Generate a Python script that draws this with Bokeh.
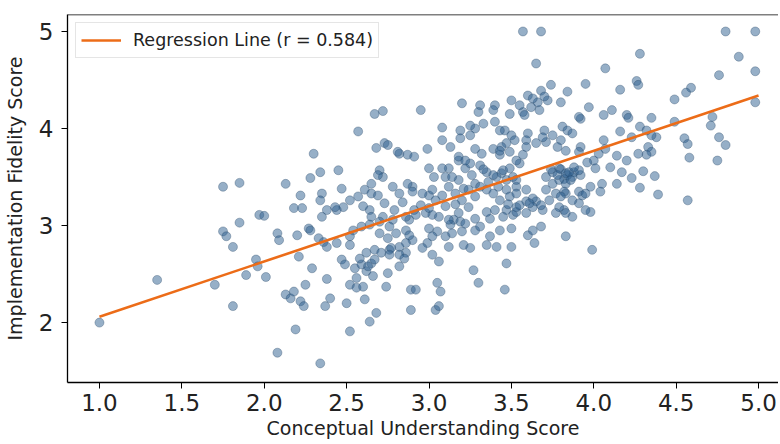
from bokeh.plotting import figure
from bokeh.models import (Range1d, FixedTicker, PrintfTickFormatter, Legend,
                          LegendItem, ColumnDataSource, Span)
from bokeh.embed import file_html
from bokeh.resources import INLINE

# ---- data ----
conceptual_score = [
    4.80, 4.98, 4.28, 4.88, 4.07, 4.98, 4.76, 3.95, 4.26, 4.27,
    3.84, 4.16, 4.59, 4.56, 4.49, 3.80, 3.97, 4.11, 4.06, 4.20,
    4.21, 4.35, 3.92, 4.72, 4.71, 4.49, 4.28, 4.32, 3.81, 3.84,
    3.87, 4.16, 4.38, 4.55, 4.57, 4.76, 4.80, 4.06, 4.07, 3.92,
    3.91, 4.33, 4.35, 4.32, 4.14, 4.20, 4.58, 4.75, 4.00, 4.01,
    3.80, 3.84, 3.88, 3.92, 3.82, 4.30, 4.23, 4.37, 4.14, 4.05,
    4.04, 3.98, 4.28, 4.39, 4.57, 3.83, 3.91, 3.93, 3.91, 3.82,
    3.83, 3.98, 3.99, 4.98,
    3.57, 3.68, 3.65, 3.74, 3.68, 3.60, 3.72, 3.20, 2.95, 2.72,
    3.31, 3.40, 3.39, 3.49, 3.57, 3.67, 3.91, 3.58, 3.50, 3.30,
    3.40, 3.33, 3.28, 3.25, 3.08, 3.19, 3.08, 3.13, 2.99, 3.28,
    3.46, 3.50, 3.52, 3.47, 3.60, 3.59, 3.65, 3.70, 3.75, 3.80,
    3.71, 3.78, 3.39, 3.44, 3.43, 3.57, 3.55, 2.73, 2.82, 2.87,
    2.91, 2.70, 2.72, 2.78, 2.90, 2.87, 3.00, 3.03, 3.12, 3.10,
    3.18, 3.22, 3.25, 3.31, 3.35, 3.18, 3.28, 3.21, 3.31, 3.35,
    3.44, 3.47, 3.51, 3.42, 3.47, 3.53, 3.00, 2.90, 2.82, 3.71,
    3.75, 3.79, 3.83, 3.71, 3.77, 3.82, 3.80,
    2.67, 2.57, 2.68, 2.30, 2.34, 2.45, 2.28, 2.47, 2.35, 2.22,
    2.13, 1.85, 1.75, 2.61, 2.65, 2.69, 2.75, 2.81, 2.69, 2.65,
    2.57, 2.52, 2.48, 2.44, 2.34, 2.18, 2.23, 1.97, 2.00, 1.85,
    1.75, 1.77, 1.81, 2.08, 2.09, 2.20, 2.27, 2.35, 2.38, 2.43,
    2.52, 2.54, 2.59, 2.64, 2.65, 2.64, 2.72, 2.78, 2.79, 2.88,
    2.91, 2.86, 2.90, 2.80, 2.86, 2.70, 2.75, 2.36, 2.44, 2.21,
    2.28, 2.33, 2.38, 1.70, 1.89, 1.96, 2.01, 1.81, 2.29, 2.38,
    2.25, 2.13, 2.16, 2.22, 2.24, 2.18, 2.37, 2.40, 2.19, 2.08,
    2.34, 2.52, 2.50, 2.64, 2.68, 2.47, 2.49, 2.52, 2.56, 2.60,
    2.61, 2.56, 2.55, 2.59, 2.62, 2.66, 2.65, 2.58, 2.62, 2.67,
    2.52, 1.00, 1.35, 1.95, 2.75, 2.74, 2.63, 2.67, 2.71, 2.76,
    2.82, 2.86, 2.82, 2.89, 2.92, 2.89, 3.04, 3.06, 3.05, 3.07,
    3.27, 3.30, 3.46, 3.47, 3.50, 3.50, 3.60, 3.63, 3.68, 3.64,
    3.37, 3.35, 3.41, 3.21, 3.25, 3.20, 3.28, 3.15, 3.13, 3.19,
    3.28, 3.37, 3.35, 3.40, 3.47, 3.51, 3.45, 3.53, 3.59, 3.65,
    3.73, 3.79, 3.00, 3.05, 3.10, 3.12, 2.99, 2.96, 3.02, 3.06,
    2.88, 2.77, 2.76, 2.82, 2.85, 2.92, 3.02, 2.70, 2.76,
    3.19, 3.25, 3.43, 4.23, 4.35, 3.18, 3.22, 3.32, 3.43, 3.49,
    3.53, 3.59, 3.69, 3.83, 4.03, 4.27, 3.08, 3.14, 3.41, 3.45,
    3.49, 3.53, 3.75, 3.79, 3.83, 3.87, 3.91, 2.96, 3.02, 3.04,
    3.08, 3.12, 3.16, 3.20, 3.24, 3.28, 3.39, 3.43, 3.49, 3.53,
    3.59, 3.63, 3.87, 3.95, 2.86, 2.98, 3.06, 3.12, 3.18, 3.22,
    3.53, 3.59, 3.63, 3.69, 3.77, 3.87, 3.95, 3.02, 3.14, 3.31,
    3.43, 3.83,
    3.62, 3.66, 3.70, 3.55, 3.63, 3.85, 3.88, 3.78, 3.86, 3.74,
    3.36, 3.39, 3.26, 3.33, 3.55, 3.61, 3.48, 3.68, 3.10, 3.16,
    3.24, 2.95, 3.00, 2.60, 2.73, 2.84, 3.96, 4.10, 4.17,
]
fidelity_score = [
    5.00, 5.00, 4.77, 4.74, 4.62, 4.59, 4.55, 4.46, 4.49, 4.45,
    4.38, 4.40, 4.42, 4.37, 4.30, 4.27, 4.22, 4.19, 4.14, 4.14,
    4.11, 4.11, 4.10, 4.12, 4.03, 4.07, 4.02, 3.98, 4.02, 3.98,
    3.95, 3.97, 3.91, 3.90, 3.84, 3.91, 3.83, 3.88, 3.79, 3.81,
    3.76, 3.81, 3.76, 3.73, 3.72, 3.67, 3.70, 3.67, 3.67, 3.59,
    3.58, 3.52, 3.55, 3.52, 3.48, 3.56, 3.49, 3.51, 3.43, 3.43,
    3.35, 3.40, 3.39, 3.32, 3.26, 3.33, 3.35, 3.31, 3.23, 3.16,
    3.13, 3.14, 2.75, 4.27,
    5.00, 5.00, 4.67, 4.45, 4.39, 4.34, 4.29, 4.26, 4.19, 4.18,
    4.24, 4.24, 4.19, 4.15, 4.17, 4.19, 4.12, 4.14, 4.29, 4.17,
    4.07, 4.05, 4.00, 3.93, 4.01, 3.90, 3.88, 3.81, 3.79, 3.79,
    3.98, 3.93, 3.88, 3.85, 3.95, 3.88, 3.85, 3.98, 3.93, 3.88,
    3.86, 3.81, 3.79, 3.81, 3.73, 3.73, 3.64, 3.85, 3.74, 3.73,
    3.71, 3.57, 3.50, 3.40, 3.40, 3.43, 3.59, 3.50, 3.59, 3.50,
    3.67, 3.59, 3.64, 3.62, 3.55, 3.47, 3.43, 3.38, 3.40, 3.37,
    3.54, 3.47, 3.50, 3.40, 3.37, 3.40, 3.31, 3.35, 3.33, 3.50,
    3.43, 3.47, 3.43, 3.37, 3.33, 3.35, 3.30,
    4.15, 3.97, 3.80, 3.74, 3.55, 3.57, 3.49, 3.38, 3.33, 3.31,
    3.43, 3.44, 3.40, 3.37, 3.33, 3.31, 3.83, 3.76, 3.52, 3.43,
    3.30, 3.26, 3.19, 3.16, 3.26, 3.18, 3.18, 3.11, 3.10, 3.03,
    2.94, 2.89, 2.78, 2.92, 2.85, 2.90, 2.97, 3.09, 3.16, 3.19,
    2.89, 2.95, 2.99, 3.16, 3.09, 3.01, 3.09, 3.06, 3.16, 3.06,
    3.16, 2.95, 2.85, 2.92, 2.82, 2.92, 2.87, 2.83, 2.82, 2.68,
    2.95, 2.87, 2.78, 2.39, 2.49, 2.58, 2.47, 2.17, 2.56, 2.45,
    2.39, 2.29, 2.25, 2.22, 2.17, 2.32, 2.17, 2.25, 1.93, 1.69,
    1.58, 1.91, 2.20, 2.01, 2.10, 2.65, 2.60, 2.39, 2.36, 2.37,
    2.24, 2.46, 2.56, 2.60, 2.53, 2.48, 2.61, 2.66, 2.72, 2.75,
    2.80, 2.00, 2.44, 2.65, 2.51, 2.37, 2.58, 2.65, 2.72, 2.75,
    2.78, 2.72, 2.58, 2.34, 2.34, 2.13, 2.13, 2.17, 2.41, 2.32,
    2.54, 2.41, 2.34, 2.61, 2.78, 2.97, 2.90, 2.95, 2.99, 2.82,
    2.89, 2.80, 2.78, 2.80, 2.77, 2.94, 2.95, 3.06, 3.01, 3.04,
    3.07, 3.07, 3.14, 3.16, 3.16, 3.11, 3.09, 3.14, 3.25, 3.25,
    3.26, 3.19, 2.97, 2.94, 2.89, 2.78, 2.82, 2.77, 2.70, 2.63,
    2.90, 2.77, 2.70, 2.70, 2.66, 3.11, 3.11, 3.04, 2.99,
    3.98, 4.03, 3.98, 3.91, 3.93, 3.71, 3.67, 3.74, 3.77, 3.76,
    3.67, 3.81, 3.91, 3.77, 3.74, 3.74, 3.59, 3.50, 3.50, 3.57,
    3.59, 3.47, 3.55, 3.59, 3.54, 3.50, 3.57, 3.33, 3.37, 3.26,
    3.31, 3.40, 3.33, 3.26, 3.37, 3.30, 3.33, 3.26, 3.30, 3.33,
    3.37, 3.28, 3.26, 3.33, 3.09, 3.13, 3.09, 3.06, 3.13, 3.02,
    3.19, 3.13, 3.19, 3.16, 3.13, 3.09, 3.16, 2.89, 2.92, 2.99,
    2.95, 2.89,
    4.22, 4.27, 4.33, 4.24, 4.31, 3.55, 3.60, 3.52, 3.47, 3.58,
    3.45, 3.52, 3.52, 3.58, 3.21, 3.23, 3.22, 3.21, 3.20, 3.22,
    3.19, 3.21, 3.18, 3.20, 3.23, 3.24, 3.65, 3.60, 3.55,
]

# regression line end points
reg_x = [1.0, 5.0]
reg_y = [2.06, 4.34]
reg_label = "Regression Line (r = 0.584)"

x_ticks = [1.0, 1.5, 2.0, 2.5, 3.0, 3.5, 4.0, 4.5, 5.0]
y_ticks = [2, 3, 4, 5]
x_label = "Conceptual Understanding Score"
y_label = "Implementation Fidelity Score"

FONT = "DejaVu Sans"
Y_TOP = 5.175

p = figure(width=778, height=442, output_backend="svg", toolbar_location=None,
           x_range=Range1d(0.806, 5.121), y_range=Range1d(1.383, Y_TOP),
           min_border_left=65, min_border_right=0, min_border_top=14,
           min_border_bottom=60)
p.outline_line_color = None
p.grid.visible = False
p.background_fill_color = "white"
p.border_fill_color = "white"

src = ColumnDataSource(dict(x=conceptual_score, y=fidelity_score))
p.scatter("x", "y", source=src, size=9, fill_color="#2e5f90", fill_alpha=0.5,
          line_color="#2a4a6a", line_alpha=0.35, line_width=1)

r_line = p.line(reg_x, reg_y, line_color="#ec6c18", line_width=2.6)

# top spine
p.add_layout(Span(location=Y_TOP, dimension="width", line_color="black",
                  line_width=1.3))

for ax in (p.xaxis[0], p.yaxis[0]):
    ax.axis_line_color = "black"
    ax.axis_line_width = 1.3
    ax.major_tick_line_color = "black"
    ax.major_tick_out = 6
    ax.major_tick_in = 0
    ax.minor_tick_line_color = None
    ax.major_label_text_font = FONT
    ax.major_label_text_font_size = "23px"
    ax.major_label_text_color = "#222222"
    ax.axis_label_text_font = FONT
    ax.axis_label_text_font_size = "19px"
    ax.axis_label_text_font_style = "normal"
    ax.axis_label_text_color = "#222222"

p.xaxis[0].ticker = FixedTicker(ticks=x_ticks)
p.xaxis[0].formatter = PrintfTickFormatter(format="%.1f")
p.xaxis[0].axis_label = x_label
p.xaxis[0].major_label_standoff = 5
p.xaxis[0].axis_label_standoff = 3

p.yaxis[0].ticker = FixedTicker(ticks=y_ticks)
p.yaxis[0].formatter = PrintfTickFormatter(format="%d")
p.yaxis[0].axis_label = y_label
p.yaxis[0].major_label_standoff = 8
p.yaxis[0].axis_label_standoff = 10

legend = Legend(items=[LegendItem(label=reg_label, renderers=[r_line])],
                location="top_left")
legend.label_text_font = FONT
legend.label_text_font_size = "17.5px"
legend.label_text_color = "#222222"
legend.border_line_color = "#cccccc"
legend.border_line_width = 1
legend.background_fill_alpha = 0.85
legend.margin = 8
legend.padding = 5
legend.glyph_width = 40
legend.glyph_height = 24
legend.label_height = 24
legend.label_standoff = 12
legend.spacing = 0
p.add_layout(legend)

open("out.html", "w").write(file_html(p, INLINE))
